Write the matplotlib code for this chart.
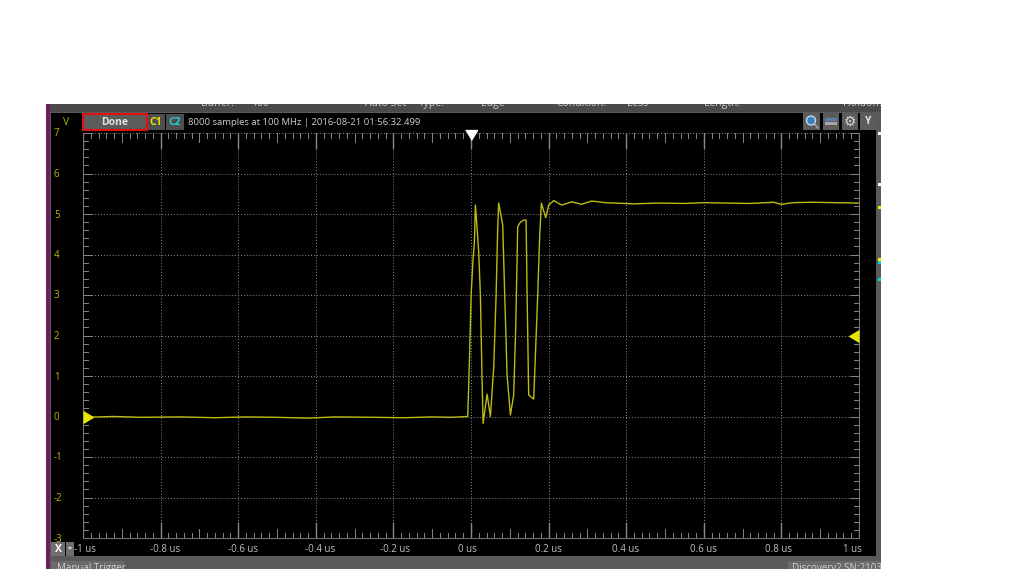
import matplotlib
matplotlib.use("Agg")
import matplotlib.pyplot as plt
from matplotlib.patches import Rectangle, Polygon, Circle

# Waveform (time in us, volts)
time_us = [-1.0, -0.92, -0.85, -0.75, -0.66, -0.58, -0.5, -0.42, -0.35, -0.25, -0.17, -0.1, -0.05, -0.0085,
           -0.0067, -0.0034, 0.0003, 0.0054, 0.0088, 0.0113, 0.0157, 0.0198, 0.0242, 0.0286, 0.0312,
           0.0415, 0.05, 0.0585, 0.0647, 0.0688, 0.0714, 0.0817, 0.0869, 0.093, 0.1015,
           0.11, 0.1152, 0.1204, 0.1273, 0.1358, 0.142, 0.1446, 0.1487, 0.1616,
           0.166, 0.1719, 0.1771, 0.1814, 0.1925, 0.2003, 0.2131, 0.2338, 0.2595, 0.2853, 0.311, 0.3454,
           0.42, 0.48, 0.55, 0.6, 0.66, 0.72, 0.78, 0.8, 0.83, 0.88, 0.94, 1.0]
volts = [-0.02, 0.0, -0.02, -0.01, -0.03, -0.01, -0.02, -0.04, -0.01, -0.02, -0.03, -0.01, -0.02, 0.0,
         0.53, 1.6, 3.0, 3.9, 4.3, 5.22, 4.65, 4.07, 3.0, 0.86, -0.17,
         0.55, 0.0, 1.2, 3.0, 4.65, 5.27, 4.73, 3.0, 1.02, 0.04,
         0.53, 2.18, 4.69, 4.8, 4.85, 4.85, 3.0, 0.53, 0.43,
         1.52, 3.0, 4.48, 5.27, 4.91, 5.22, 5.33, 5.22, 5.3, 5.24, 5.32, 5.28,
         5.25, 5.27, 5.26, 5.28, 5.27, 5.26, 5.29, 5.24, 5.28, 5.29, 5.28, 5.27]

x_major = [-1, -0.8, -0.6, -0.4, -0.2, 0, 0.2, 0.4, 0.6, 0.8, 1]
x_labels = ["-1 us", "-0.8 us", "-0.6 us", "-0.4 us", "-0.2 us", "0 us", "0.2 us", "0.4 us", "0.6 us", "0.8 us", "1 us"]
y_major = [7, 6, 5, 4, 3, 2, 1, 0, -1, -2, -3]

W, H = 1024, 576
fig = plt.figure(figsize=(W / 100, H / 100), dpi=100, facecolor="white")
plt.rcParams["font.family"] = ["Open Sans", "DejaVu Sans"]

# window chrome, drawn in picture pixels
ui = fig.add_axes([0, 0, 1, 1])
ui.set_xlim(0, W)
ui.set_ylim(H, 0)
ui.axis("off")


def box(x0, y0, x1, y1, color, **kw):
    ui.add_patch(Rectangle((x0, y0), x1 - x0, y1 - y0, facecolor=color, edgecolor=kw.pop("edge", "none"), **kw))


box(46, 104, 881, 569, "#5a5a5a")
box(46, 104, 50, 569, "#6a1f5e")
box(50, 104, 881, 112, "#4a4a4a")
box(51, 113, 876, 556, "black")
box(83, 114, 147, 130, "#5c5c5c", edge="#e01010", linewidth=1.5)
box(148, 114, 165, 130, "#4e4e4e")
box(166, 114, 184, 130, "#4e4e4e")
for x0, x1 in [(803, 820), (823, 839), (842, 858), (860, 876)]:
    box(x0, 113, x1, 130, "#5c5c5c")
box(51, 542, 65, 556, "#6e6e6e")
box(66, 542, 74, 556, "#6e6e6e")
box(51, 561, 124, 569, "#6a6a6a")
box(788, 561, 881, 569, "#6a6a6a")

# coloured side marks on the cut off panel
for y, c in [(133, "white"), (184, "white"), (207, "#ffee00"), (259, "#ffee00"), (262, "#00d8d8"), (279, "#00d8d8")]:
    box(878, y - 1.5, 881, y + 1.5, c)

ui.text(115, 122.5, "Done", color="#e0e0e0", fontsize=7.5, ha="center", va="center", fontweight="bold")
ui.text(156, 122.5, "C1", color="#e8e000", fontsize=7.5, ha="center", va="center", fontweight="bold")
ui.text(175, 122.5, "C2", color="#20d0d0", fontsize=7.5, ha="center", va="center", fontweight="bold")
ui.text(188, 122.5, "8000 samples at 100 MHz | 2016-08-21 01:56:32.499", color="#d0d0d0", fontsize=6.8, va="center")
ui.text(66, 122.5, "V", color="#b0b000", fontsize=7.5, ha="center", va="center")
ui.text(58, 549, "X", color="white", fontsize=7.5, ha="center", va="center", fontweight="bold")
ui.add_patch(Polygon([(67.5, 547), (72.5, 547), (70, 550)], facecolor="#d0d0d0"))
ui.text(868, 122, "Y", color="#e0e0e0", fontsize=7.5, ha="center", va="center", fontweight="bold")
ui.add_patch(Circle((811, 120.5), 4.5, facecolor="#3a80c0", edgecolor="#c8d8e8", linewidth=1))
ui.plot([814.5, 818], [124, 128], color="#b0b0b0", lw=1)
box(825, 118, 837, 121, "#5a7fa8")
box(825, 122, 837, 125, "#a8a8a8")
ui.text(850, 122, "⚙", color="#d8d8d8", fontsize=10, ha="center", va="center", family="DejaVu Sans")

# labels cut by the top and bottom edge of the screenshot
clip_top = Rectangle((46, 104), 835, 20, transform=ui.transData)
clip_bot = Rectangle((46, 556), 835, 13, transform=ui.transData)
for x, s in [(201, "Buffer:"), (251, "100"), (365, "Auto Set"), (419, "Type:"), (481, "Edge"),
             (556, "Condition:"), (627, "Less"), (704, "Length:"), (843, "Holdoff:")]:
    t = ui.text(x, 103.5, s, color="#c8c8c8", fontsize=7.5, va="center", clip_on=True)
    t.set_clip_path(clip_top)
for x, s in [(57, "Manual Trigger"), (792, "Discovery2 SN:21031")]:
    t = ui.text(x, 568, s, color="#d0d0d0", fontsize=7, va="center", clip_on=True)
    t.set_clip_path(clip_bot)

# scope plot
ax = fig.add_axes([83 / W, 1 - 538 / H, (859 - 83) / W, (538 - 133) / H], facecolor="black")
ax.patch.set_alpha(0)
ax.set_xlim(-1, 1)
ax.set_ylim(-3, 7)
ax.set_xticks(x_major)
ax.set_yticks(y_major)
ax.set_xticklabels([])
ax.set_yticklabels([])
ax.grid(True, color="#8c8c8c", linestyle=(0, (1, 2)), linewidth=0.7)
ax.set_axisbelow(True)
ax.tick_params(which="major", length=0)
for s in ax.spines.values():
    s.set_color("#777777")
    s.set_linewidth(0.7)
ax.spines["top"].set_visible(False)

# ruler ticks on all four sides
for i in range(101):
    t = -1 + i * 0.02
    major = i % 10 == 0
    mid = i % 5 == 0
    ln = 0.037 if major else (0.022 if mid else 0.012)
    ax.plot([t, t], [0, ln], transform=ax.get_xaxis_transform(), color="#888888", lw=1.0 if major else 0.7)
    ax.plot([t, t], [1, 1 - ln], transform=ax.get_xaxis_transform(), color="#888888", lw=1.0 if major else 0.7)
for i in range(51):
    v = -3 + i * 0.2
    ln = 0.012 if i % 5 == 0 else 0.006
    ax.plot([0, ln], [v, v], transform=ax.get_yaxis_transform(), color="#888888", lw=0.7)
    ax.plot([1, 1 - ln], [v, v], transform=ax.get_yaxis_transform(), color="#888888", lw=0.7)

ax.plot(time_us, volts, color="#bcbc14", linewidth=1.0, solid_joinstyle="round")

# tick text sits a little off the ticks, as in the scope software
x_shift = [2, 5, 5, 4, 2, -4, 0, -1, 0, -3, -7]
for t, s, dx in zip(x_major, x_labels, x_shift):
    ax.annotate(s, (t, 0), xycoords=("data", "axes fraction"), xytext=(dx, -11), textcoords="offset pixels",
                color="#c0c0c0", fontsize=7, ha="center", va="center", annotation_clip=False)
for v in y_major:
    ax.annotate(str(v), (0, v), xycoords=("axes fraction", "data"), xytext=(-29, -1), textcoords="offset pixels",
                color="#b8b800", fontsize=7, ha="left", va="center", annotation_clip=False)

# trigger and level markers
ax.plot([0], [7], marker=[(-0.6, 0.3), (0.6, 0.3), (0, -0.7)], color="white", markersize=10, clip_on=False, zorder=5)
ax.plot([-1], [0], marker=[(0, -0.6), (1, 0), (0, 0.6)], color="#e8e800", markersize=14, clip_on=True, zorder=5)
ax.plot([1], [2], marker=[(0, -0.6), (-1, 0), (0, 0.6)], color="#e8e800", markersize=14, clip_on=True, zorder=5)

fig.savefig("out.png", dpi=100)
